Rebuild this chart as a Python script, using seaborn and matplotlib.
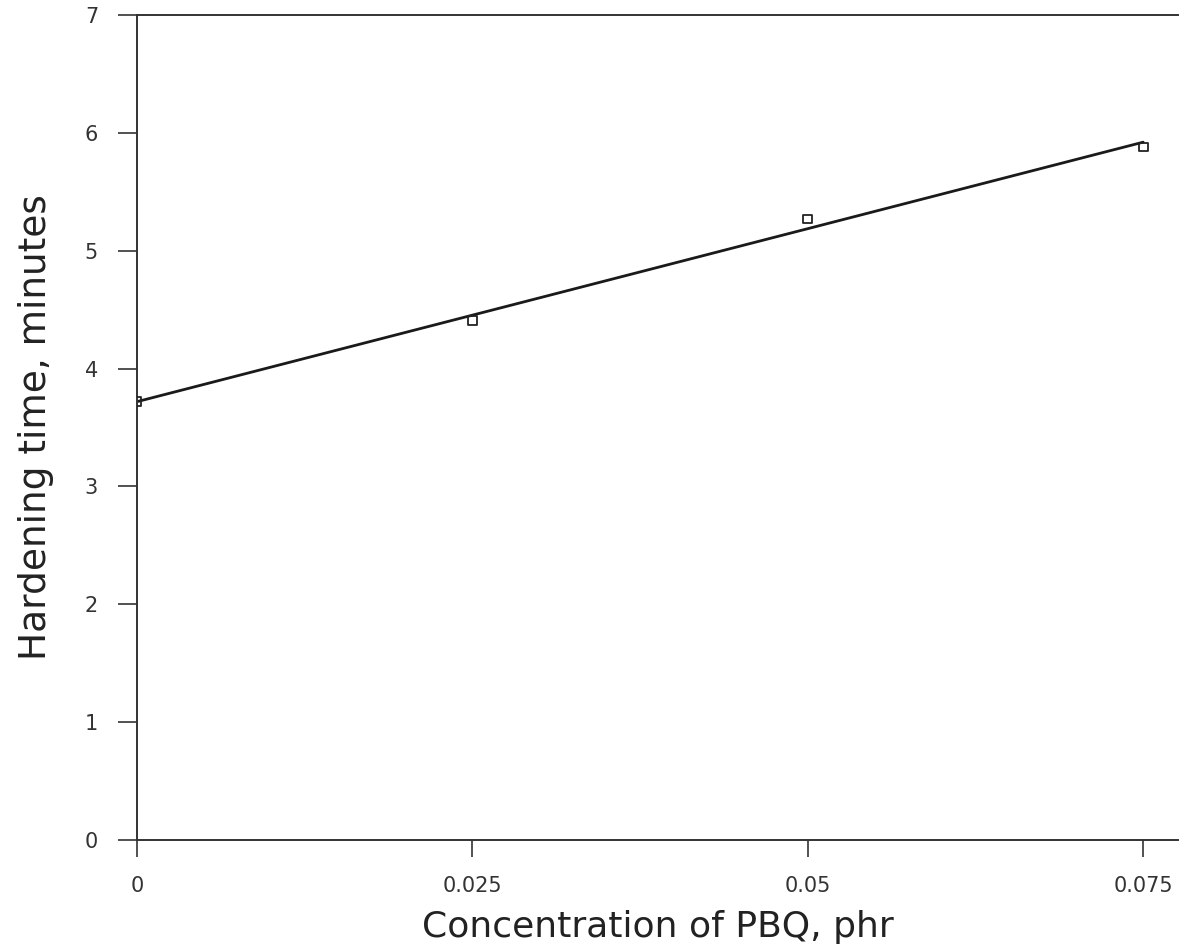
import matplotlib
matplotlib.use("Agg")
import matplotlib.pyplot as plt
import seaborn as sns
import pandas as pd

# PBQ concentration (phr) and measured hardening time (minutes)
pbq_conc = [0.0, 0.025, 0.05, 0.075]
hardening_min = [3.72, 4.41, 5.27, 5.88]
x_ticks = [0.0, 0.025, 0.05, 0.075]
x_tick_labels = ["0", "0.025", "0.05", "0.075"]
y_ticks = [0, 1, 2, 3, 4, 5, 6, 7]

df = pd.DataFrame({"conc": pbq_conc, "time": hardening_min})

sns.set_style("ticks")
plt.rcParams["font.family"] = ["DejaVu Sans"]

fig = plt.figure(figsize=(11.95, 9.44), dpi=100)
ax = fig.add_axes([0.1146, 0.1102, 0.8712, 0.8739])

# least-squares line through the measurements
sns.regplot(data=df, x="conc", y="time", ax=ax, ci=None, truncate=True,
            scatter=False, line_kws=dict(color="#1a1a1a", lw=2.0))
# open square markers for the measured points
sns.scatterplot(data=df, x="conc", y="time", ax=ax, marker="s", s=40,
                facecolor="none", edgecolor="#222222", linewidth=1.3, zorder=3)

ax.set_xlim(0, 0.0776)
ax.set_ylim(0, 7)
ax.set_xticks(x_ticks)
ax.set_xticklabels(x_tick_labels)
ax.set_yticks(y_ticks)

ax.tick_params(axis="x", direction="out", length=12, width=1.2, pad=14,
               labelsize=15, colors="#333333")
ax.tick_params(axis="y", direction="out", length=14, width=1.2, pad=14,
               labelsize=15, colors="#333333")

for side in ["left", "bottom", "top"]:
    ax.spines[side].set_linewidth(1.4)
    ax.spines[side].set_color("#333333")
ax.spines["right"].set_visible(False)

ax.set_xlabel("Concentration of PBQ, phr", fontsize=26, color="#222222", labelpad=10)
ax.set_ylabel("Hardening time, minutes", fontsize=27, color="#222222", labelpad=22)

fig.savefig("out.png", dpi=100, facecolor="white")
